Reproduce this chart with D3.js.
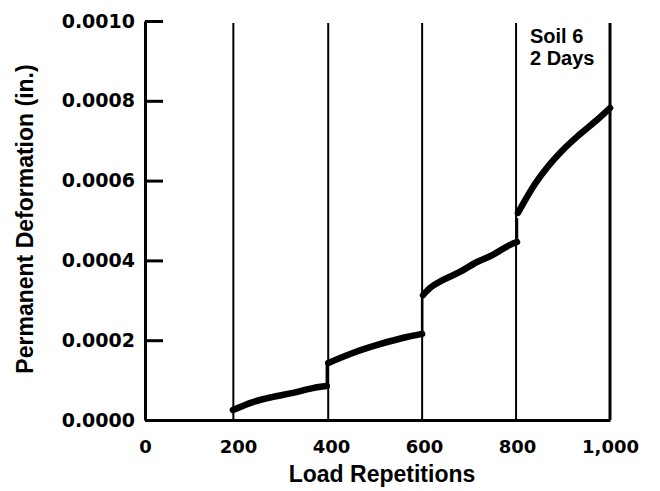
<!DOCTYPE html>
<html>
<head>
<meta charset="utf-8">
<script src="https://cdn.jsdelivr.net/npm/d3@7"></script>
<style>
  html, body { margin: 0; padding: 0; background: #fff; }
  svg { display: block; }
</style>
</head>
<body>
<svg id="chart" width="660" height="491"></svg>
<script>
// ---- data ----
const xTicks = [0, 200, 400, 600, 800, 1000];
const yTicks = [0, 0.0002, 0.0004, 0.0006, 0.0008, 0.0010];
const stageBreaks = [190, 394, 596, 798, 1000];

const stage1Reps = [189, 232, 275, 318, 361, 391];
const stage1Def  = [0.000025, 0.000045, 0.000058, 0.000068, 0.000080, 0.000085];
const stage2Reps = [394, 447, 505, 563, 596];
const stage2Def  = [0.000143, 0.000168, 0.000190, 0.000208, 0.000216];
const stage3Reps = [598, 613, 641, 677, 714, 748, 785, 800];
const stage3Def  = [0.000313, 0.000331, 0.000351, 0.000371, 0.000396, 0.000414, 0.000439, 0.000446];
const stage4Reps = [802, 817, 839, 867, 897, 931, 968, 1000];
const stage4Def  = [0.000519, 0.000550, 0.000592, 0.000636, 0.000675, 0.000712, 0.000748, 0.000782];

// vertical jumps between stages (at the stage break)
const jumpReps = [391, 596, 800];
const jumpFrom = [0.000085, 0.000216, 0.000446];
const jumpTo   = [0.000145, 0.000321, 0.000506];

const xTitle = "Load Repetitions";
const yTitle = "Permanent Deformation (in.)";
const noteLines = ["Soil 6", "2 Days"];

// ---- layout ----
const svg = d3.select("#chart");
const x = d3.scaleLinear().domain([0, 1000]).range([145, 610]);
const y = d3.scaleLinear().domain([0, 0.001]).range([420, 21]);

const tickFont = "'DejaVu Sans', sans-serif";
const titleFont = "'Liberation Sans', Arial, sans-serif";

// stage separators
svg.append("g").selectAll("line")
  .data(stageBreaks)
  .join("line")
  .attr("x1", d => x(d)).attr("x2", d => x(d))
  .attr("y1", y(0)).attr("y2", y(0.000995))
  .attr("stroke", "#000")
  .attr("stroke-width", d => d === 1000 ? 3 : 2);

// jumps
svg.append("g").selectAll("line")
  .data(jumpReps.map((r, i) => ({r, a: jumpFrom[i], b: jumpTo[i]})))
  .join("line")
  .attr("x1", d => x(d.r)).attr("x2", d => x(d.r))
  .attr("y1", d => y(d.a)).attr("y2", d => y(d.b))
  .attr("stroke", "#000").attr("stroke-width", 2.5);

// curves
const stages = [
  stage1Reps.map((r, i) => [r, stage1Def[i]]),
  stage2Reps.map((r, i) => [r, stage2Def[i]]),
  stage3Reps.map((r, i) => [r, stage3Def[i]]),
  stage4Reps.map((r, i) => [r, stage4Def[i]])
];
const line = d3.line().x(d => x(d[0])).y(d => y(d[1])).curve(d3.curveMonotoneX);
svg.append("g").selectAll("path")
  .data(stages)
  .join("path")
  .attr("d", line)
  .attr("fill", "none")
  .attr("stroke", "#000")
  .attr("stroke-width", 6.5)
  .attr("stroke-linecap", "round")
  .attr("stroke-linejoin", "round");

// y axis
const yAxis = d3.axisLeft(y)
  .tickValues(yTicks)
  .tickFormat(d3.format(".4f"))
  .tickSizeInner(-18)
  .tickSizeOuter(0)
  .tickPadding(10);
const gy = svg.append("g").attr("transform", `translate(${x(0)},0)`).call(yAxis);
gy.select(".domain").attr("stroke", "#000").attr("stroke-width", 3);
gy.selectAll(".tick line").attr("stroke", "#000").attr("stroke-width", 3);
gy.selectAll(".tick text")
  .attr("font-family", tickFont).attr("font-weight", "bold")
  .attr("font-size", 19).attr("fill", "#000");

// x axis
const xAxis = d3.axisBottom(x)
  .tickValues(xTicks)
  .tickFormat(d3.format(","))
  .tickSize(0)
  .tickPadding(20);
const gx = svg.append("g").attr("transform", `translate(0,${y(0)})`).call(xAxis);
gx.select(".domain").attr("stroke", "#000").attr("stroke-width", 3);
gx.selectAll(".tick text")
  .attr("font-family", tickFont).attr("font-weight", "bold")
  .attr("font-size", 18).attr("fill", "#000");

// titles
svg.append("text")
  .attr("x", 382).attr("y", 482)
  .attr("text-anchor", "middle")
  .attr("font-family", titleFont).attr("font-weight", "bold")
  .attr("font-size", 23)
  .text(xTitle);

svg.append("text")
  .attr("transform", "translate(33,219) rotate(-90)")
  .attr("text-anchor", "middle")
  .attr("font-family", titleFont).attr("font-weight", "bold")
  .attr("font-size", 23)
  .text(yTitle);

// note
svg.append("g").selectAll("text")
  .data(noteLines)
  .join("text")
  .attr("x", 530).attr("y", (d, i) => 43 + i * 22)
  .attr("font-family", titleFont).attr("font-weight", "bold")
  .attr("font-size", 20)
  .text(d => d);
</script>
</body>
</html>
